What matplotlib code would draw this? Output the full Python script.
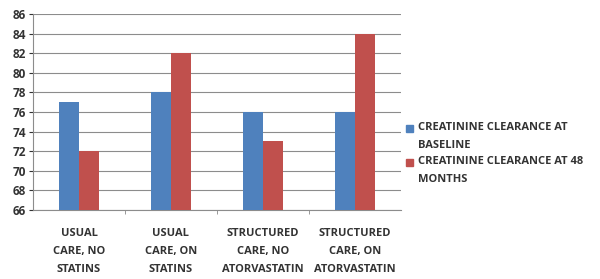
import matplotlib
matplotlib.use("Agg")
import matplotlib.pyplot as plt
from matplotlib.patches import Rectangle
import numpy as np

categories = ["USUAL\nCARE, NO\nSTATINS", "USUAL\nCARE, ON\nSTATINS",
              "STRUCTURED\nCARE, NO\nATORVASTATIN", "STRUCTURED\nCARE, ON\nATORVASTATIN"]
baseline = [77, 78, 76, 76]
month48 = [72, 82, 73, 84]
series_names = ["CREATININE CLEARANCE AT\nBASELINE", "CREATININE CLEARANCE AT 48\nMONTHS"]
colors = ['#4f81bd', '#c0504d']

plt.rcParams['font.family'] = ['Open Sans', 'DejaVu Sans']

fig = plt.figure(figsize=(6.0, 2.79), dpi=100)
ax = fig.add_axes([0.055, 0.247, 0.613, 0.703])

x = np.arange(len(categories))
w = 0.22
ax.bar(x - w/2, baseline, w, color=colors[0], zorder=3)
ax.bar(x + w/2, month48, w, color=colors[1], zorder=3)

ax.set_ylim(66, 86)
ax.set_yticks(range(66, 87, 2))
ax.set_xlim(-0.5, len(categories) - 0.5)
ax.set_xticks(x)
ax.set_xticklabels(categories, fontsize=8, fontweight='bold', color='#333333', linespacing=1.85)
ax.tick_params(axis='x', length=0, pad=13)
ax.tick_params(axis='y', length=3, labelsize=8.5, colors='#333333', pad=2)
ax.set_xticks(np.arange(0.5, len(categories) - 1, 1), minor=True)
ax.tick_params(axis='x', which='minor', length=3, color='#888888')
for lab in ax.get_yticklabels():
    lab.set_fontweight('bold')
ax.yaxis.grid(True, color='#8c8c8c', linewidth=0.8, zorder=0)
for s in ['top', 'right']:
    ax.spines[s].set_visible(False)
ax.spines['left'].set_color('#8c8c8c')
ax.spines['bottom'].set_color('#8c8c8c')

# legend: square marker level with the first text line
W, H = fig.get_size_inches() * fig.dpi
for i, (name, c) in enumerate(zip(series_names, colors)):
    ytop = 128 + i * 34  # pixel row of first line centre
    fig.add_artist(Rectangle((406 / W, 1 - (ytop + 3.5) / H), 7 / W, 7 / H,
                             color=c, transform=fig.transFigure))
    fig.text(418 / W, 1 - (ytop - 6) / H, name, fontsize=8, fontweight='bold',
             color='#333333', va='top', linespacing=1.85)

fig.savefig("out.png", dpi=100)
